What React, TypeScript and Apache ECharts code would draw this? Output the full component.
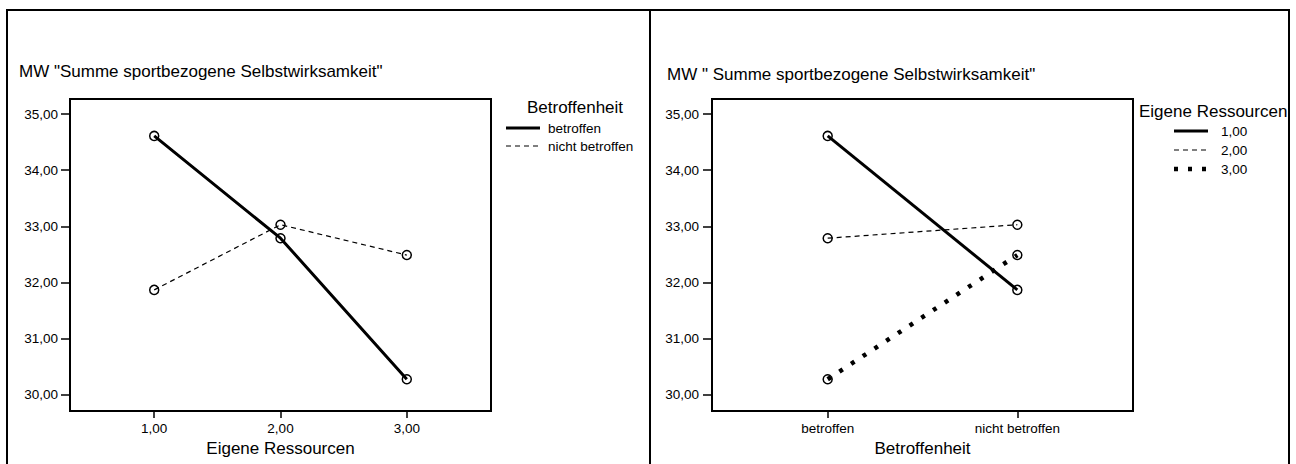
import React, { useEffect, useRef } from "react";
import * as echarts from "echarts";

// ---- data ----
const ressourcenLevels = [1, 2, 3];
const ressourcenLabels = ["1,00", "2,00", "3,00"];
const betroffenheitLevels = [1, 2];
const betroffenheitLabels = ["betroffen", "nicht betroffen"];
const betroffenValues = [34.61, 32.79, 30.28];
const nichtBetroffenValues = [31.87, 33.03, 32.49];
const yTicks = [30, 31, 32, 33, 34, 35];
const titleText = 'MW "Summe sportbezogene Selbstwirksamkeit"';
const titleTextRight = 'MW " Summe sportbezogene Selbstwirksamkeit"';
const leftXName = "Eigene Ressourcen";
const rightXName = "Betroffenheit";
const leftLegendTitle = "Betroffenheit";
const rightLegendTitle = "Eigene Ressourcen";

const FONT = "'Liberation Sans', Arial, sans-serif";

const fmt = (v: number) => v.toFixed(2).replace(".", ",");

export default function App() {
  const ref = useRef<HTMLDivElement>(null);

  useEffect(() => {
    if (!ref.current) return;
    const chart = echarts.init(ref.current, undefined, { renderer: "svg" });

    const styleSolid = { color: "#000", width: 3, type: "solid" as const };
    const styleDashed = { color: "#000", width: 1.2, type: [5, 4] as any };
    const styleDotted = { color: "#000", width: 4.5, type: [4, 10] as any, cap: "butt" as const };
    const lineStyles = [styleSolid, styleDashed, styleDotted];

    const marker = {
      symbol: "circle",
      symbolSize: 9,
      itemStyle: { color: "rgba(255,255,255,0)", borderColor: "#000", borderWidth: 1.5 },
    };

    const yAxisBase = (gridIndex: number, margin: number) => ({
      type: "value" as const,
      gridIndex,
      min: 29.715,
      max: 35.267,
      axisLine: { show: false },
      splitLine: { show: false },
      axisTick: {
        show: true,
        length: 9,
        customValues: yTicks,
        lineStyle: { color: "#000", width: 1.5 },
      },
      axisLabel: {
        customValues: yTicks,
        formatter: (v: number) => fmt(v),
        color: "#000",
        fontFamily: FONT,
        fontSize: 13.5,
        margin,
      },
    });

    const leftSeries = [
      { name: betroffenheitLabels[0], values: betroffenValues },
      { name: betroffenheitLabels[1], values: nichtBetroffenValues },
    ].map((s, i) => ({
      type: "line" as const,
      name: s.name,
      xAxisIndex: 0,
      yAxisIndex: 0,
      data: ressourcenLevels.map((x, j) => [x, s.values[j]]),
      lineStyle: lineStyles[i],
      ...marker,
    }));

    const rightSeries = ressourcenLabels.map((name, i) => ({
      type: "line" as const,
      name,
      xAxisIndex: 1,
      yAxisIndex: 1,
      data: betroffenheitLevels.map((x, j) => [x, j === 0 ? betroffenValues[i] : nichtBetroffenValues[i]]),
      lineStyle: lineStyles[i],
      ...marker,
    }));

    const text = (t: string, x: number, y: number, size: number, align = "left") => ({
      type: "text",
      style: {
        text: t,
        x,
        y,
        fill: "#000",
        fontFamily: FONT,
        fontSize: size,
        textAlign: align,
        textVerticalAlign: "middle",
      },
    });
    const sample = (x1: number, x2: number, y: number, ls: any) => ({
      type: "line",
      shape: { x1, y1: y, x2, y2: y },
      style: {
        stroke: "#000",
        lineWidth: ls.width,
        lineDash: Array.isArray(ls.type) ? ls.type : null,
        lineCap: "butt",
      },
    });

    const leftLegendY = [128, 146];
    const rightLegendY = [131, 150, 169];

    chart.setOption({
      animation: false,
      backgroundColor: "#fff",
      grid: [
        { left: 70, top: 99, width: 421, height: 312, show: true, borderColor: "#000", borderWidth: 2, backgroundColor: "transparent" },
        { left: 712, top: 99, width: 421, height: 312, show: true, borderColor: "#000", borderWidth: 2, backgroundColor: "transparent" },
      ],
      xAxis: [
        {
          type: "value",
          gridIndex: 0,
          min: 1 / 3,
          max: 11 / 3,
          axisLine: { show: false },
          splitLine: { show: false },
          axisTick: { show: true, length: 7, customValues: ressourcenLevels, lineStyle: { color: "#000", width: 1.5 } },
          axisLabel: {
            customValues: ressourcenLevels,
            formatter: (v: number) => ressourcenLabels[ressourcenLevels.indexOf(v)] ?? "",
            color: "#000",
            fontFamily: FONT,
            fontSize: 13.5,
            margin: 10,
          },
          name: leftXName,
          nameLocation: "middle",
          nameGap: 28,
          nameTextStyle: { color: "#000", fontFamily: FONT, fontSize: 17 },
        },
        {
          type: "value",
          gridIndex: 1,
          min: 0.39,
          max: 2.61,
          axisLine: { show: false },
          splitLine: { show: false },
          axisTick: { show: true, length: 7, customValues: betroffenheitLevels, lineStyle: { color: "#000", width: 1.5 } },
          axisLabel: {
            customValues: betroffenheitLevels,
            formatter: (v: number) => betroffenheitLabels[betroffenheitLevels.indexOf(v)] ?? "",
            color: "#000",
            fontFamily: FONT,
            fontSize: 13.5,
            margin: 10,
          },
          name: rightXName,
          nameLocation: "middle",
          nameGap: 28,
          nameTextStyle: { color: "#000", fontFamily: FONT, fontSize: 17 },
        },
      ],
      yAxis: [yAxisBase(0, 12), yAxisBase(1, 13)],
      series: [...leftSeries, ...rightSeries],
      graphic: [
        { type: "rect", shape: { x: 7, y: 10, width: 643, height: 480 }, style: { fill: "none", stroke: "#000", lineWidth: 2 } },
        { type: "rect", shape: { x: 650, y: 10, width: 639, height: 480 }, style: { fill: "none", stroke: "#000", lineWidth: 2 } },
        text(titleText, 19, 71, 17),
        text(titleTextRight, 667, 74, 17),
        text(leftLegendTitle, 575, 107, 17, "center"),
        ...betroffenheitLabels.flatMap((lab, i) => [
          sample(506, 540, leftLegendY[i], lineStyles[i]),
          text(lab, 548, leftLegendY[i], 13.5),
        ]),
        text(rightLegendTitle, 1139, 111, 17),
        ...ressourcenLabels.flatMap((lab, i) => [
          sample(1174, 1208, rightLegendY[i], lineStyles[i]),
          text(lab, 1221, rightLegendY[i], 13.5),
        ]),
      ],
    });

    return () => chart.dispose();
  }, []);

  return (
    <div
      ref={ref}
      style={{ position: "fixed", left: 0, top: 0, width: 1296, height: 464, background: "#fff" }}
    />
  );
}
